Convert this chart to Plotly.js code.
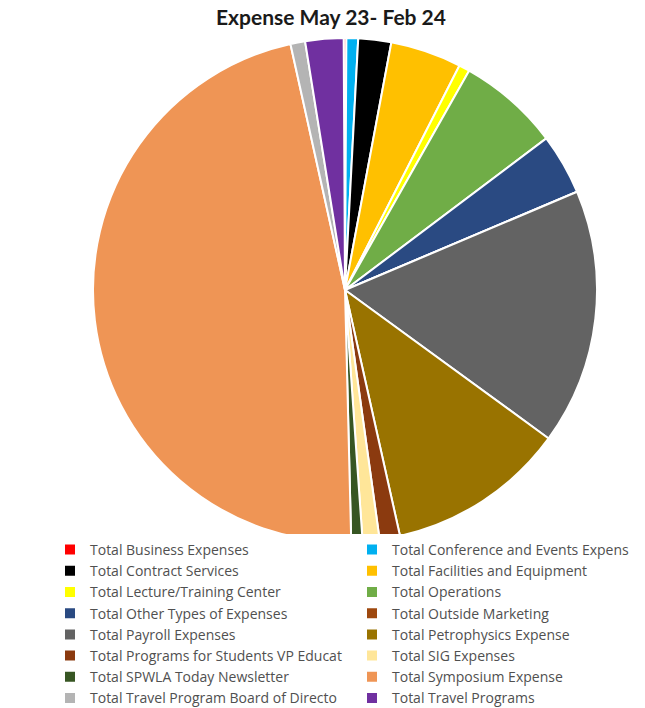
<!DOCTYPE html>
<html>
<head>
<meta charset="utf-8">
<script src="https://cdn.plot.ly/plotly-3.0.1.min.js"></script>
<style>html,body{margin:0;padding:0;background:#fff;}#chart{width:645px;height:708px;}</style>
</head>
<body>
<div id="chart"></div>
<script>
const categories = [
  "Total Business Expenses",
  "Total Conference and Events Expens",
  "Total Contract Services",
  "Total Facilities and Equipment",
  "Total Lecture/Training Center",
  "Total Operations",
  "Total Other Types of Expenses",
  "Total Outside Marketing",
  "Total Payroll Expenses",
  "Total Petrophysics Expense",
  "Total Programs for Students VP Educat",
  "Total SIG Expenses",
  "Total SPWLA Today Newsletter",
  "Total Symposium Expense",
  "Total Travel Program Board of Directo",
  "Total Travel Programs"
];
// estimated shares (percent of total)
const values = [0.17, 0.75, 2.11, 4.56, 0.69, 6.53, 3.89, 0.02, 16.39, 11.47, 1.31, 1.08, 0.72, 46.92, 0.94, 2.45];
const colors = ["#FF0000","#00B0F0","#000000","#FFC000","#FFFF00","#70AD47","#2A4A82","#9E480E",
                "#636363","#997300","#8B3A0F","#FFE699","#375623","#EF9555","#B4B4B4","#7030A0"];

const trace = {
  type: "pie",
  labels: categories,
  values: values,
  sort: false,
  direction: "clockwise",
  rotation: -0.3,
  textinfo: "none",
  hoverinfo: "label+percent",
  marker: {colors: colors, line: {color: "#ffffff", width: 2}},
  domain: {x: [93/645, 597/645], y: [1 - 542/708, 1 - 38/708]}
};

const layout = {
  width: 645, height: 708,
  margin: {l: 0, r: 0, t: 0, b: 0, autoexpand: false},
  paper_bgcolor: "#ffffff",
  title: {text: "<b>Expense May 23- Feb 24</b>", x: 331/645, xanchor: "center", y: 1 - 18/708, yanchor: "middle",
          font: {family: "Lato, 'Open Sans', sans-serif", size: 21, color: "#1a1a1a"}},
  showlegend: true,
  legend: {
    orientation: "h",
    x: 50/645, xanchor: "left",
    y: 1 - 534/708, yanchor: "top",
    entrywidth: 257, entrywidthmode: "pixels",
    font: {family: "'Open Sans', Lato, sans-serif", size: 14, color: "#505050"},
    traceorder: "normal",
    itemclick: false
  }
};

Plotly.newPlot("chart", [trace], layout, {displayModeBar: false, staticPlot: true});
</script>
</body>
</html>
